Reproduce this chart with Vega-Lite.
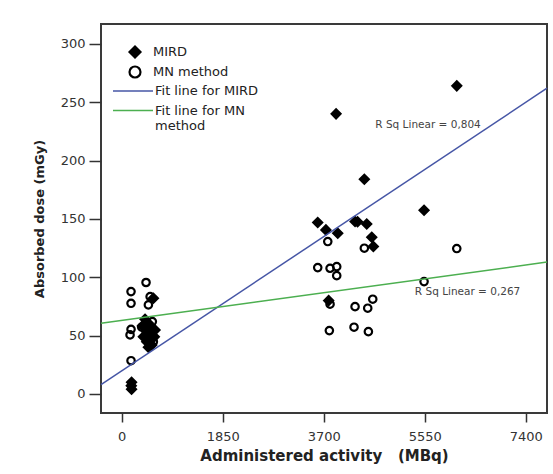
{
  "$schema": "https://vega.github.io/schema/vega-lite/v6.json",
  "width": 446,
  "height": 389,
  "autosize": {"type": "none"},
  "padding": {"left": 101, "top": 24, "right": 6, "bottom": 61},
  "background": "white",
  "view": {"stroke": "#3a3a3a", "strokeWidth": 2},
  "config": {
    "font": "DejaVu Sans",
    "view": {"stroke": "#3a3a3a", "strokeWidth": 2},
    "axis": {"grid": false, "domain": false, "labelColor": "#333333", "tickColor": "#333333", "tickWidth": 1.5, "labelFontSize": 13, "titleColor": "#222222", "format": "d"}
  },
  "datasets": {
    "points": [
      {"method": "MN method", "activity": 6137, "dose": 124.6},
      {"method": "MN method", "activity": 5538, "dose": 96.3},
      {"method": "MN method", "activity": 3774, "dose": 130.6},
      {"method": "MN method", "activity": 4444, "dose": 124.9},
      {"method": "MN method", "activity": 3590, "dose": 108.3},
      {"method": "MN method", "activity": 3816, "dose": 107.7},
      {"method": "MN method", "activity": 3938, "dose": 109.1},
      {"method": "MN method", "activity": 3938, "dose": 101.4},
      {"method": "MN method", "activity": 3816, "dose": 76.9},
      {"method": "MN method", "activity": 4274, "dose": 74.8},
      {"method": "MN method", "activity": 4506, "dose": 73.5},
      {"method": "MN method", "activity": 4598, "dose": 81.2},
      {"method": "MN method", "activity": 3803, "dose": 54.3},
      {"method": "MN method", "activity": 4255, "dose": 57.2},
      {"method": "MN method", "activity": 4518, "dose": 53.4},
      {"method": "MN method", "activity": 445, "dose": 95.5},
      {"method": "MN method", "activity": 170, "dose": 87.7},
      {"method": "MN method", "activity": 170, "dose": 77.7},
      {"method": "MN method", "activity": 520, "dose": 83.4},
      {"method": "MN method", "activity": 488, "dose": 76.3},
      {"method": "MN method", "activity": 170, "dose": 55.4},
      {"method": "MN method", "activity": 152, "dose": 50.6},
      {"method": "MN method", "activity": 366, "dose": 57.2},
      {"method": "MN method", "activity": 579, "dose": 44.8},
      {"method": "MN method", "activity": 170, "dose": 28.5},
      {"method": "MN method", "activity": 430, "dose": 58},
      {"method": "MN method", "activity": 520, "dose": 55},
      {"method": "MN method", "activity": 560, "dose": 62},
      {"method": "MN method", "activity": 470, "dose": 48},
      {"method": "MIRD", "activity": 6137, "dose": 264},
      {"method": "MIRD", "activity": 3926, "dose": 240},
      {"method": "MIRD", "activity": 4444, "dose": 184},
      {"method": "MIRD", "activity": 5538, "dose": 157.5},
      {"method": "MIRD", "activity": 3590, "dose": 147},
      {"method": "MIRD", "activity": 3740, "dose": 140.6},
      {"method": "MIRD", "activity": 3957, "dose": 137.7},
      {"method": "MIRD", "activity": 4274, "dose": 147.7},
      {"method": "MIRD", "activity": 4320, "dose": 147.5},
      {"method": "MIRD", "activity": 4488, "dose": 145.7},
      {"method": "MIRD", "activity": 4580, "dose": 134.3},
      {"method": "MIRD", "activity": 4609, "dose": 126.3},
      {"method": "MIRD", "activity": 3790, "dose": 80},
      {"method": "MIRD", "activity": 180, "dose": 4},
      {"method": "MIRD", "activity": 175, "dose": 7},
      {"method": "MIRD", "activity": 180, "dose": 10},
      {"method": "MIRD", "activity": 427, "dose": 64},
      {"method": "MIRD", "activity": 488, "dose": 60.6},
      {"method": "MIRD", "activity": 378, "dose": 58.3},
      {"method": "MIRD", "activity": 549, "dose": 56.3},
      {"method": "MIRD", "activity": 458, "dose": 53.4},
      {"method": "MIRD", "activity": 610, "dose": 54.9},
      {"method": "MIRD", "activity": 396, "dose": 49.1},
      {"method": "MIRD", "activity": 518, "dose": 50.6},
      {"method": "MIRD", "activity": 597, "dose": 49.1},
      {"method": "MIRD", "activity": 458, "dose": 44.8},
      {"method": "MIRD", "activity": 549, "dose": 42},
      {"method": "MIRD", "activity": 488, "dose": 40},
      {"method": "MIRD", "activity": 580, "dose": 82}
    ],
    "fits": [
      {"fit": "Fit line for MIRD", "activity": -380, "dose": 8},
      {"fit": "Fit line for MIRD", "activity": 7790, "dose": 262},
      {"fit": "Fit line for MN method", "activity": -380, "dose": 60.6},
      {"fit": "Fit line for MN method", "activity": 7790, "dose": 113}
    ],
    "rsq": [
      {"label": "R Sq Linear = 0,804", "activity": 5611, "dose": 230.3},
      {"label": "R Sq Linear = 0,267", "activity": 6335, "dose": 87.2}
    ]
  },
  "encoding": {
    "x": {
      "field": "activity", "type": "quantitative",
      "scale": {"domain": [-380, 7790], "nice": false, "zero": false},
      "axis": {"values": [0, 1850, 3700, 5550, 7400], "title": "Administered activity\u00a0\u00a0\u00a0(MBq)", "titleFontSize": 15, "titleFontWeight": "bold", "tickSize": 9, "labelPadding": 8, "titlePadding": 5}
    },
    "y": {
      "field": "dose", "type": "quantitative",
      "scale": {"domain": [-16.3, 317], "nice": false, "zero": false},
      "axis": {"values": [0, 50, 100, 150, 200, 250, 300], "title": "Absorbed dose (mGy)", "titleFontSize": 13, "titleFontWeight": "bold", "tickSize": 12, "labelPadding": 4, "titlePadding": 14}
    }
  },
  "layer": [
    {
      "data": {"name": "points"},
      "transform": [{"filter": "datum.method == 'MN method'"}],
      "mark": {"type": "point", "strokeWidth": 2.2, "opacity": 1, "size": 55},
      "encoding": {
        "shape": {
          "field": "method", "type": "nominal",
          "scale": {"domain": ["MIRD", "MN method"], "range": ["diamond", "circle"]},
          "legend": {"orient": "none", "legendX": 27, "legendY": 21, "title": null, "padding": 0, "symbolSize": 120, "symbolStrokeWidth": 2.2, "labelOffset": 11, "labelFontSize": 13, "labelColor": "#222222", "rowPadding": 0}
        },
        "fill": {
          "field": "method", "type": "nominal",
          "scale": {"domain": ["MIRD", "MN method"], "range": ["black", "transparent"]},
          "legend": {"orient": "none", "legendX": 27, "legendY": 21, "title": null, "padding": 0, "symbolSize": 120, "symbolStrokeWidth": 2.2, "labelOffset": 11, "labelFontSize": 13, "labelColor": "#222222", "rowPadding": 0}
        },
        "stroke": {
          "field": "method", "type": "nominal",
          "scale": {"domain": ["MIRD", "MN method"], "range": ["black", "black"]},
          "legend": {"orient": "none", "legendX": 27, "legendY": 21, "title": null, "padding": 0, "symbolSize": 120, "symbolStrokeWidth": 2.2, "labelOffset": 11, "labelFontSize": 13, "labelColor": "#222222", "rowPadding": 0}
        }
      }
    },
    {
      "data": {"name": "points"},
      "transform": [{"filter": "datum.method == 'MIRD'"}],
      "mark": {"type": "point", "strokeWidth": 2, "opacity": 1, "size": 85},
      "encoding": {
        "shape": {"field": "method", "type": "nominal"},
        "fill": {"field": "method", "type": "nominal"},
        "stroke": {"field": "method", "type": "nominal"}
      }
    },
    {
      "data": {"name": "fits"},
      "mark": {"type": "line", "strokeWidth": 1.5},
      "encoding": {
        "color": {
          "field": "fit", "type": "nominal",
          "scale": {"domain": ["Fit line for MIRD", "Fit line for MN method"], "range": ["#4656a6", "#4caf50"]},
          "legend": {"orient": "none", "legendX": 11, "legendY": 60, "title": null, "padding": 0, "symbolType": "stroke", "symbolSize": 1600, "symbolStrokeWidth": 1.5, "labelOffset": 1, "labelFontSize": 13, "labelColor": "#222222", "rowPadding": 5.5, "clipHeight": 14, "labelExpr": "datum.label == 'Fit line for MN method' ? ['Fit line for MN', 'method'] : datum.label"}
        }
      }
    },
    {
      "data": {"name": "rsq"},
      "mark": {"type": "text", "fontSize": 10.5, "color": "#444444", "align": "center", "baseline": "middle"},
      "encoding": {"text": {"field": "label", "type": "nominal"}}
    }
  ]
}
